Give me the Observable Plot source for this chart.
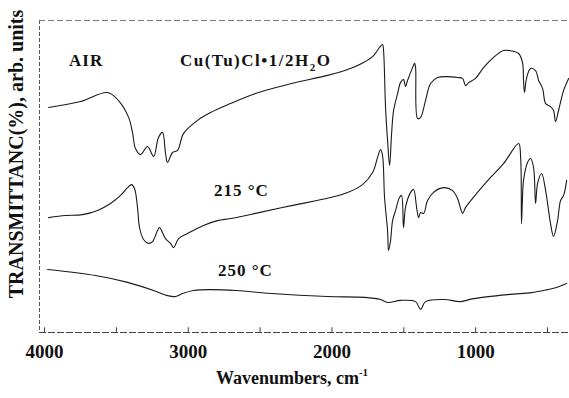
<!DOCTYPE html>
<html><head><meta charset="utf-8">
<script src="https://cdn.jsdelivr.net/npm/d3@7"></script>
<script src="https://cdn.jsdelivr.net/npm/@observablehq/plot@0.6"></script>
<style>body{margin:0;background:#fff}</style>
</head><body><div id="chart"></div>
<script>
// Spectrum AIR: Cu(Tu)Cl·1/2H2O (wavenumber cm-1, transmittance arb. units)
const wnAir = [3972,3749,3562,3485,3415,3388,3367,3332,3283,3241,3207,3179,3158,3144,3109,3074,3033,2935,2845,2706,2532,2281,2031,1871,1780,1710,1669,1648,1641,1627,1613,1599,1585,1571,1543,1523,1502,1488,1474,1439,1425,1418,1404,1383,1349,1314,1265,1196,1126,1091,1070,1049,1001,945,875,806,736,701,674,667,660,646,618,583,562,534,513,479,458,444,423,388,353];
const tAir = [75,77,80,77.3,71.7,66.7,61.3,59.3,62,58.7,65,66.7,59.7,56.7,60,60.7,66.3,70.7,73.3,76.3,79.7,83,85.7,88,90,92.3,95,96,94,75,64,55.7,66.3,74,79.7,83.3,84.3,82,84,88.3,89.7,88.3,71.3,71.7,77.3,83,85,85.3,85,84.7,82.3,83.3,84.7,88.3,91.7,94,93.7,93,90,84,80,84.7,88,87.3,84,81.3,76.3,75.3,74,70.3,74,80.7,84.7];
// Spectrum 215 °C
const wn215 = [3972,3854,3736,3631,3541,3471,3422,3395,3374,3353,3339,3311,3276,3248,3214,3200,3179,3158,3123,3102,3067,3005,2894,2796,2706,2532,2281,2010,1891,1787,1717,1683,1662,1648,1634,1613,1606,1592,1578,1557,1530,1516,1502,1488,1453,1432,1411,1397,1383,1362,1335,1293,1223,1161,1126,1091,1070,987,896,806,701,687,681,674,667,639,618,597,583,569,541,513,479,458,430,409,388,367];
const t215 = [38.3,39,39.3,40.7,43,45.7,48.3,49.3,48,41.7,35,31,29.7,30.3,34,35,33.3,31.3,29.7,28.3,31.3,33,35.7,37.3,38,39.7,42.3,45,46.7,49.3,53.3,58.3,61,59,45,34,27.3,30.7,37.3,40.7,45,45.7,35,41.7,46.7,47.7,41.7,38.3,40,39.7,44,46.7,48.3,47.3,44.7,39.7,41.7,46.7,51.7,56.3,63,58.3,36.3,45,50.7,56.7,58,55,43,49.7,53,47.3,36.3,32,37.3,44,45.7,50.7];
// Spectrum 250 °C
const wn250 = [3979,3645,3422,3241,3144,3088,3040,2963,2852,2664,2420,2031,1773,1662,1613,1523,1418,1383,1349,1216,1105,1015,764,611,500,437,367];
const t250 = [21,19,16.7,14,12.3,12,13,14,14.3,14,13,12,11.7,11,10,10.7,10.3,7.7,10.3,11,10.3,11.3,12.7,13.3,14.3,15,16.3];

const seriesNames = ["AIR", "215 °C", "250 °C"];
const xTicks = [4000, 3000, 2000, 1000];
const minorTicks = [4000, 3500, 3000, 2500, 2000, 1500, 1000, 500];

const rows = (w, t, s) => w.map((x, i) => ({w: x, t: t[i], s}));
const data = [
  ...rows(wnAir, tAir, seriesNames[0]),
  ...rows(wn215, t215, seriesNames[1]),
  ...rows(wn250, t250, seriesNames[2])
];

const serif = "'Liberation Serif', 'Times New Roman', serif";
const plot = Plot.plot({
  width: 569, height: 398,
  marginLeft: 39, marginRight: 0, marginTop: 20, marginBottom: 66,
  style: {fontFamily: serif, background: "#fff", color: "#111"},
  x: {domain: [4035, 347], label: null},
  y: {domain: [0, 104], axis: null},
  marks: [
    Plot.ruleX([4035], {stroke: "#555", strokeDasharray: "4,2"}),
    Plot.ruleY([0], {stroke: "#444", strokeDasharray: "7,2"}),
    Plot.ruleY([104], {stroke: "#777", strokeDasharray: "6,3"}),
    Plot.ruleX(minorTicks, {y1: 0, y2: 1.6, stroke: "#444"}),
    Plot.line(data, {x: "w", y: "t", z: "s", stroke: "#1a1a1a", strokeWidth: 1.1, curve: "catmull-rom"}),
    Plot.axisX(xTicks, {tickSize: 0, tickPadding: 12, fontSize: 19, fontWeight: "bold", tickFormat: d => String(d), label: null})
  ]
});
document.getElementById("chart").appendChild(plot);

const sx = plot.scale("x"), sy = plot.scale("y");
const svg = d3.select(plot);
const ann = svg.append("g").attr("font-family", serif).attr("font-weight", "bold").attr("fill", "#111").attr("text-anchor", "start");

// in-chart labels (anchored in data space)
ann.append("text").attr("x", sx.apply(3826)).attr("y", sy.apply(88.7)).attr("font-size", 17).attr("letter-spacing", 1).text("AIR");
const cu = ann.append("text").attr("x", sx.apply(3054)).attr("y", sy.apply(88.7)).attr("font-size", 17).attr("letter-spacing", 1.5);
cu.append("tspan").text("Cu(Tu)Cl•1/2H");
cu.append("tspan").attr("font-size", 11).attr("dy", 5).text("2");
cu.append("tspan").attr("dy", -5).text("O");
ann.append("text").attr("x", sx.apply(2817)).attr("y", sy.apply(45.3)).attr("font-size", 17).attr("letter-spacing", 1).text("215 °C");
ann.append("text").attr("x", sx.apply(2789)).attr("y", sy.apply(18.7)).attr("font-size", 17).attr("letter-spacing", 1).text("250 °C");

// axis titles
const xt = ann.append("text").attr("x", 292).attr("y", 384).attr("text-anchor", "middle").attr("font-size", 18);
xt.append("tspan").text("Wavenumbers, cm");
xt.append("tspan").attr("font-size", 11).attr("dy", -8).text("-1");
ann.append("text").attr("transform", "translate(16,154) rotate(-90)").attr("text-anchor", "middle")
  .attr("dominant-baseline", "central").attr("font-size", 20).text("TRANSMITTANC(%), arb. units");
</script>
</body></html>
